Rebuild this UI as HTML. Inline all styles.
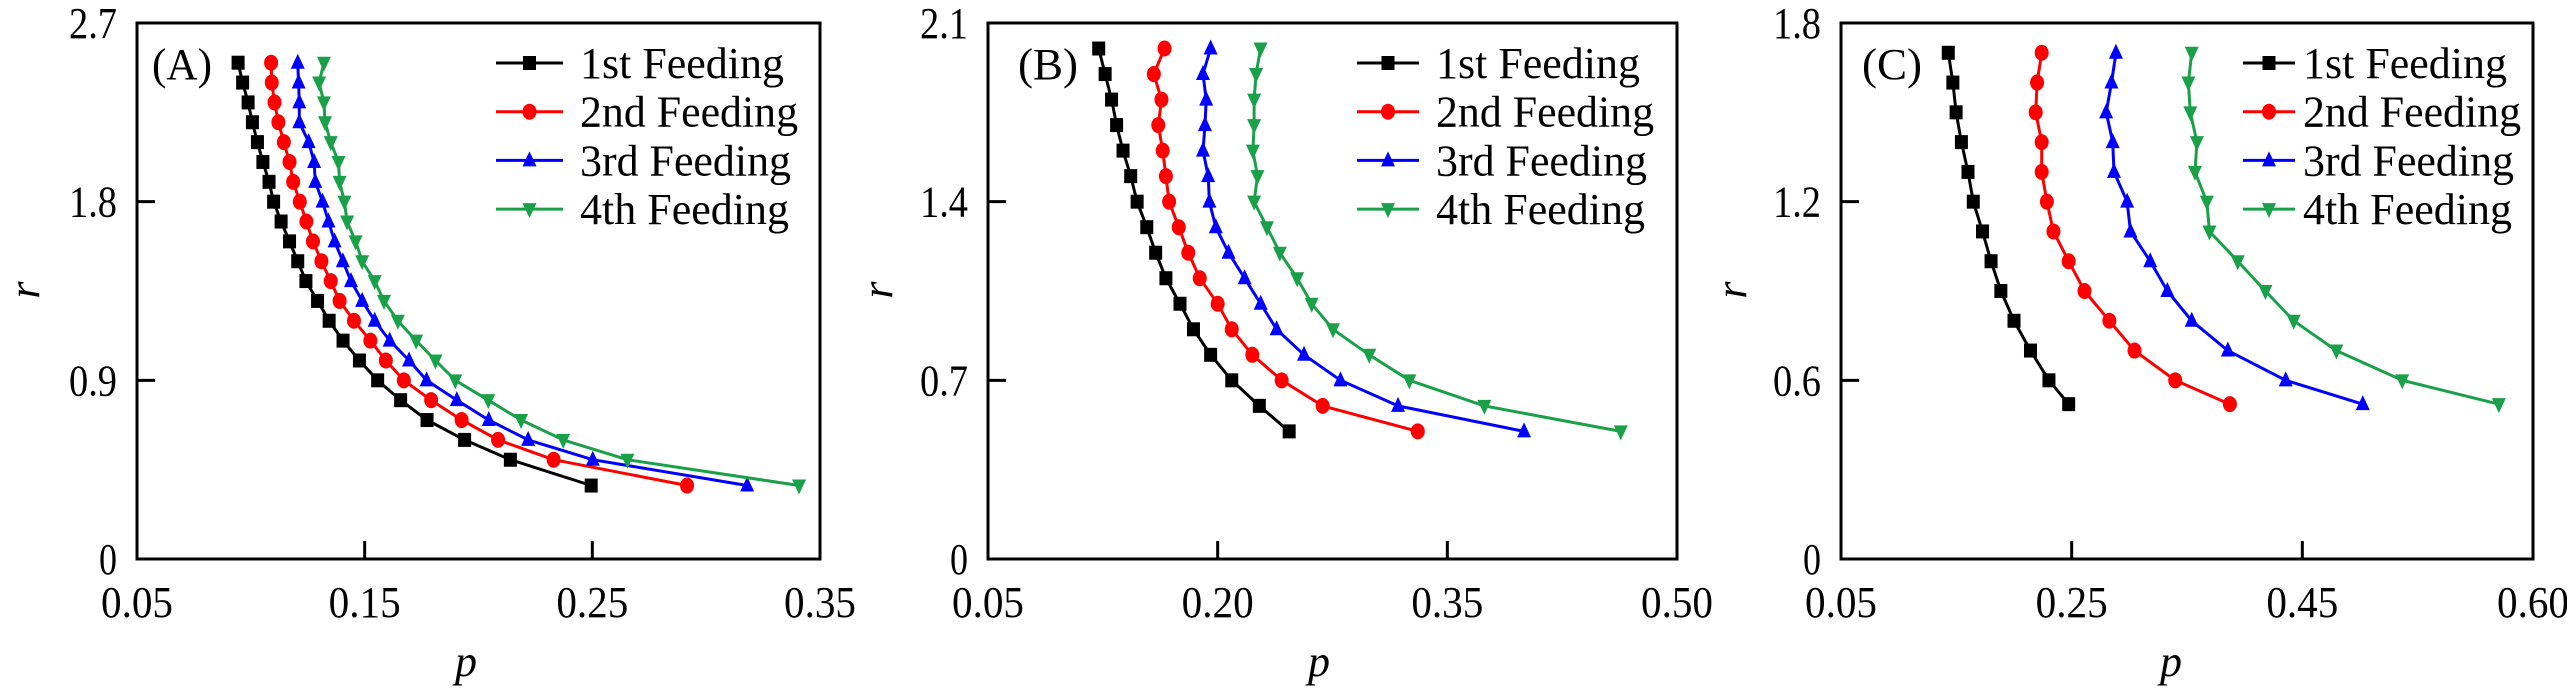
<!DOCTYPE html>
<html><head><meta charset="utf-8">
<style>
html,body{margin:0;padding:0;background:#fff;}
svg{display:block;}
svg text{font-family:"Liberation Serif","DejaVu Serif",serif;}
</style></head>
<body>
<svg id="chart" width="2567" height="693" viewBox="0 0 2567 693" xmlns="http://www.w3.org/2000/svg"></svg>
<script>
// ---- Data ----
const seriesNames = ["1st Feeding","2nd Feeding","3rd Feeding","4th Feeding"];
// Panel A
const rA = [2.5,2.4,2.3,2.2,2.1,2.0,1.9,1.8,1.7,1.6,1.5,1.4,1.3,1.2,1.1,1.0,0.9,0.8,0.7,0.6,0.5,0.37];
const pA1 = [0.0944,0.0964,0.0988,0.1007,0.1029,0.1053,0.108,0.110,0.1133,0.117,0.1206,0.1242,0.1293,0.1344,0.1405,0.1477,0.1557,0.1658,0.1774,0.1939,0.214,0.2495];
const pA2 = [0.1089,0.1092,0.1104,0.1121,0.1145,0.117,0.1186,0.1215,0.1244,0.1273,0.131,0.1351,0.139,0.1453,0.1525,0.1593,0.1672,0.1792,0.1926,0.2086,0.233,0.2916];
const pA3 = [0.1206,0.121,0.1213,0.1213,0.1254,0.1278,0.1283,0.1315,0.1341,0.1368,0.1404,0.144,0.1489,0.1544,0.161,0.1695,0.1772,0.1905,0.2045,0.2218,0.2502,0.318];
const pA4 = [0.1321,0.130,0.1321,0.1326,0.1351,0.1385,0.139,0.1411,0.1423,0.146,0.1489,0.1544,0.1585,0.1646,0.1726,0.1811,0.1898,0.2043,0.2187,0.2372,0.2654,0.3408];
// Panel B
const rB = [2.0,1.9,1.8,1.7,1.6,1.5,1.4,1.3,1.2,1.1,1.0,0.9,0.8,0.7,0.6,0.5];
const pB1 = [0.1223,0.1265,0.1307,0.134,0.1382,0.1432,0.1474,0.1537,0.1595,0.1662,0.1754,0.1842,0.1954,0.2092,0.2272,0.2467];
const pB2 = [0.1653,0.1583,0.1633,0.1612,0.1641,0.1662,0.1683,0.1746,0.1808,0.1883,0.2,0.2092,0.2226,0.2418,0.2686,0.3307];
const pB3 = [0.1954,0.1904,0.1925,0.1917,0.1904,0.1938,0.1946,0.1988,0.2071,0.2176,0.2281,0.2385,0.2564,0.2802,0.3178,0.4001];
const pB4 = [0.228,0.2251,0.2238,0.2238,0.223,0.226,0.2238,0.2322,0.2406,0.2519,0.2614,0.2753,0.299,0.3252,0.3742,0.4633];
// Panel C
const rC = [1.7,1.6,1.5,1.4,1.3,1.2,1.1,1.0,0.9,0.8,0.7,0.6,0.52];
const pC1 = [0.143,0.147,0.1498,0.1544,0.1601,0.1647,0.1727,0.1801,0.1886,0.2,0.2143,0.2303,0.2474];
const pC2 = [0.224,0.22,0.2188,0.224,0.224,0.2285,0.2342,0.2474,0.2611,0.2827,0.3045,0.3398,0.3872];
const pC3 = [0.2884,0.2845,0.2799,0.2856,0.2867,0.2981,0.301,0.3181,0.333,0.3541,0.3854,0.4356,0.5024];
const pC4 = [0.3541,0.3512,0.3529,0.3586,0.3569,0.3672,0.3695,0.394,0.418,0.4425,0.4795,0.5366,0.6204];
// Tick values & labels
const xTicksA = [0.05,0.15,0.25,0.35], xLabelsA = ["0.05","0.15","0.25","0.35"];
const xTicksB = [0.05,0.20,0.35,0.50], xLabelsB = ["0.05","0.20","0.35","0.50"];
const xTicksC = [0.05,0.25,0.45,0.65], xLabelsC = ["0.05","0.25","0.45","0.60"];
const yTicksA = [0,0.9,1.8,2.7], yLabelsA = ["0","0.9","1.8","2.7"];
const yTicksB = [0,0.7,1.4,2.1], yLabelsB = ["0","0.7","1.4","2.1"];
const yTicksC = [0,0.6,1.2,1.8], yLabelsC = ["0","0.6","1.2","1.8"];
const panelLabels = ["(A)","(B)","(C)"];

const colors = ["#000000","#ff0000","#0000ff","#1ba04a"];
const shapes = ["square","circle","up","down"];
const NS = "http://www.w3.org/2000/svg";
const svg = document.getElementById("chart");
function mk(tag, attrs, parent){const e=document.createElementNS(NS,tag);for(const k in attrs)e.setAttribute(k,attrs[k]);(parent||svg).appendChild(e);return e;}
// fit text to measured width (font-independent)
function fit(t, w){t.setAttribute("textLength", w);t.setAttribute("lengthAdjust","spacingAndGlyphs");}

function marker(g, shape, cx, cy, color){
  let m;
  if(shape==="square") m=mk("rect",{x:cx-6.5,y:cy-7,width:13,height:14,fill:color},g);
  else if(shape==="circle") m=mk("ellipse",{cx:cx,cy:cy,rx:7,ry:8,fill:color},g);
  else if(shape==="up") m=mk("polygon",{points:`${cx},${cy-9} ${cx+7},${cy+6} ${cx-7},${cy+6}`,fill:color},g);
  else m=mk("polygon",{points:`${cx-7},${cy-6} ${cx+7},${cy-6} ${cx},${cy+9}`,fill:color},g);
  return m;
}

const legendWidths = [204,218,211,209];
const panels = [
  {name:"a",left:137,right:820,xmin:0.05,xmax:0.35,ymax:2.7,xt:xTicksA,xl:xLabelsA,yt:yTicksA,yl:yLabelsA,r:rA,p:[pA1,pA2,pA3,pA4],legX:496,legLen:67,legText:580,labX:152,rX:27,pX:466},
  {name:"b",left:988,right:1677,xmin:0.05,xmax:0.50,ymax:2.1,xt:xTicksB,xl:xLabelsB,yt:yTicksB,yl:yLabelsB,r:rB,p:[pB1,pB2,pB3,pB4],legX:1357,legLen:62,legText:1436,labX:1018,rX:880,pX:1319},
  {name:"c",left:1841,right:2533,xmin:0.05,xmax:0.65,ymax:1.8,xt:xTicksC,xl:xLabelsC,yt:yTicksC,yl:yLabelsC,r:rC,p:[pC1,pC2,pC3,pC4],legX:2243,legLen:52,legText:2303,labX:1862,rX:1734,pX:2171}
];
const TOP=23, BOT=559;

panels.forEach((P,pi)=>{
  const xs = v => P.left + (v-P.xmin)/(P.xmax-P.xmin)*(P.right-P.left);
  const ys = v => BOT - v/P.ymax*(BOT-TOP);
  const g = mk("g",{});
  
  
  P.p.forEach((arr,si)=>{
    const sg = mk("g",{},g);
    
    
    const pts = arr.map((v,i)=>xs(v).toFixed(1)+","+ys(P.r[i]).toFixed(1)).join(" ");
    mk("polyline",{points:pts,fill:"none",stroke:colors[si],"stroke-width":3,"stroke-linejoin":"round"},sg);
    arr.forEach((v,i)=>{
      const m = marker(sg,shapes[si],xs(v),ys(P.r[i]),colors[si]);
      
      
    });
  });
  const fr = mk("rect",{x:P.left,y:TOP,width:P.right-P.left,height:BOT-TOP,fill:"none",stroke:"#000","stroke-width":3},g);
  
  
  P.xt.forEach((t,i)=>{
    const x=xs(t);
    if(i>0 && i<P.xt.length-1) mk("line",{x1:x,y1:BOT,x2:x,y2:BOT-18,stroke:"#000","stroke-width":3},g);
    const tx = mk("text",{x:x-36,y:617,"font-size":44,fill:"#000"},g);
    tx.textContent = P.xl[i];
    fit(tx,72);
    
    
  });
  P.yt.forEach((t,i)=>{
    const y=ys(t);
    if(i>0 && i<P.yt.length-1) mk("line",{x1:P.left,y1:y,x2:P.left+18,y2:y,stroke:"#000","stroke-width":3},g);
    const lbl = P.yl[i];
    const w = lbl.length===1 ? 18 : 48;
    const tx = mk("text",{x:P.left-20-w,y:y+15,"font-size":44,fill:"#000"},g);
    tx.textContent = lbl;
    fit(tx,w);
    
    
  });
  const xt = mk("text",{x:P.pX,y:676,"font-size":44,"font-style":"italic","text-anchor":"middle"},g);
  xt.textContent="p";
  
  
  const yt = mk("text",{x:P.rX,y:290,"font-size":44,"font-style":"italic","text-anchor":"middle",transform:`rotate(-90 ${P.rX} 290)`,"dy":12},g);
  yt.textContent="r";
  
  
  const pl = mk("text",{x:P.labX,y:79,"font-size":44},g);
  pl.textContent=panelLabels[pi];
  fit(pl,60);
  
  
  const lg = mk("g",{},g);
  
  
  seriesNames.forEach((n,si)=>{
    const y = 63 + si*48.7;
    const e = mk("g",{},lg);
    
    
    mk("line",{x1:P.legX,y1:y,x2:P.legX+P.legLen,y2:y,stroke:colors[si],"stroke-width":3},e);
    marker(e,shapes[si],P.legX+P.legLen/2,y,colors[si]);
    const t = mk("text",{x:P.legText,y:y+15,"font-size":44},e);
    t.textContent=n;
    fit(t,legendWidths[si]);
  });
});
</script>
</body></html>
